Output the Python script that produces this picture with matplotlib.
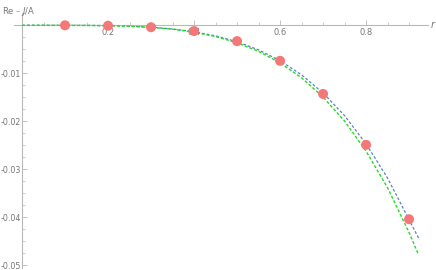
import matplotlib
matplotlib.use("Agg")
import matplotlib.pyplot as plt
from matplotlib.ticker import MultipleLocator

# data points
r_pts = [0.1, 0.2, 0.3, 0.4, 0.5, 0.6, 0.7, 0.8, 0.9]
v_pts = [0.0, -0.0001, -0.0004, -0.0012, -0.0033, -0.0074, -0.0143, -0.0249, -0.0404]

# curves
r_line = [0.0, 0.05, 0.1, 0.15, 0.2, 0.25, 0.3, 0.35, 0.4, 0.45, 0.5, 0.55,
          0.6, 0.65, 0.7, 0.75, 0.8, 0.85, 0.9, 0.922]
v_blue = [0.0, 0.0, -0.000004, -0.000022, -0.000073, -0.000187, -0.0004, -0.00077,
          -0.00134, -0.0022, -0.00343, -0.00512, -0.00738, -0.01032, -0.0141,
          -0.01882, -0.0247, -0.03183, -0.0405, -0.0443]
v_green = [0.0, 0.0, -0.000004, -0.000023, -0.000078, -0.0002, -0.00043, -0.00082,
           -0.00143, -0.00234, -0.00364, -0.00543, -0.00782, -0.01093, -0.01495,
           -0.01995, -0.02622, -0.03385, -0.04318, -0.0478]

xticks = [0.2, 0.4, 0.6, 0.8]
yticks = [-0.01, -0.02, -0.03, -0.04, -0.05]

W, H = 436, 270
fig = plt.figure(figsize=(W / 100, H / 100), dpi=100)
left, right, top, bottom = 14, 428, 13, 268
ax = fig.add_axes([left / W, 1 - bottom / H, (right - left) / W, (bottom - top) / H])

ax.plot(r_line, v_blue, color="#5b7fc0", lw=0.9, dashes=(2.2, 1.6), zorder=2)
ax.plot(r_line, v_green, color="#22dd22", lw=1.0, dashes=(2.2, 1.4), zorder=3)
ax.scatter(r_pts, v_pts, s=52, color="#f47878", edgecolors="none", zorder=4)

ax.set_xlim(-0.0186, 0.944)
ax.set_ylim(-0.05056, 0.00256)

axcol = "#b8b8b8"
for s in ["top", "right"]:
    ax.spines[s].set_visible(False)
ax.spines["left"].set_position(("data", 0))
ax.spines["bottom"].set_position(("data", 0))
for s in ["left", "bottom"]:
    ax.spines[s].set_color(axcol)
    ax.spines[s].set_linewidth(0.8)

ax.set_xticks(xticks)
ax.set_xticklabels([f"{t:g}" for t in xticks])
ax.set_yticks(yticks)
ax.set_yticklabels([f"{t:g}".replace("\u2212", "-") for t in yticks])
ax.xaxis.set_minor_locator(MultipleLocator(0.05))
ax.yaxis.set_minor_locator(MultipleLocator(0.0025))
ax.tick_params(axis="x", which="major", direction="in", length=3.5, width=0.6,
               color=axcol, labelsize=6, labelcolor="#777777", pad=2)
ax.tick_params(axis="y", which="major", direction="in", length=3.5, width=0.6,
               color=axcol, labelsize=5.7, labelcolor="#777777", pad=1)
ax.tick_params(axis="both", which="minor", direction="in", length=2, width=0.5, color=axcol)
ax.patch.set_visible(False)

fig.text(2 / W, 1 - 12 / H, r"Re – $\mathit{J}$/A", fontsize=6, color="#777777",
         ha="left", va="center")
fig.text(430 / W, 1 - 24 / H, r"$\mathit{r}$", fontsize=7, color="#777777",
         ha="left", va="center")

fig.savefig("out.png", dpi=100)
